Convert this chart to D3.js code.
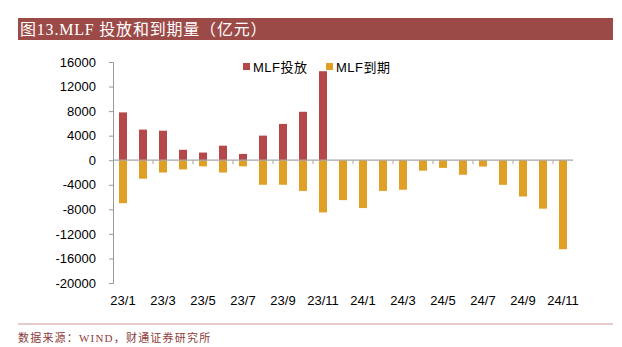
<!DOCTYPE html>
<html>
<head>
<meta charset="utf-8">
<script src="https://cdn.jsdelivr.net/npm/d3@7"></script>
<style>
  body { margin: 0; background: #fff; }
  svg { display: block; }
  .axis text { font-family: "Liberation Sans", Arial, sans-serif; font-size: 13px; fill: #000; }
</style>
</head>
<body>
<svg id="chart"></svg>
<script>
// data (亿元)
const months = ["23/1","23/2","23/3","23/4","23/5","23/6","23/7","23/8","23/9","23/10","23/11","23/12",
                "24/1","24/2","24/3","24/4","24/5","24/6","24/7","24/8","24/9","24/10","24/11"];
const injection = [7790, 4990, 4810, 1700, 1250, 2370, 1030, 4010, 5910, 7890, 14500, null,
                   null, null, null, null, null, null, null, null, null, null, null];
const maturity = [-7000, -3000, -2000, -1500, -1000, -2000, -1000, -4000, -4000, -5000, -8500, -6500,
                  -7790, -5000, -4810, -1700, -1250, -2370, -1030, -4010, -5910, -7890, -14500];
const yTicks = [-20000, -16000, -12000, -8000, -4000, 0, 4000, 8000, 12000, 16000];
const seriesNames = ["MLF投放", "MLF到期"];

const W = 622, H = 347;
const colors = {red: "#b5494a", gold: "#dfa025", title: "#9c4a47"};

const svg = d3.select("#chart").attr("width", W).attr("height", H);

// title bar
svg.append("rect").attr("x", 18).attr("y", 18).attr("width", 595).attr("height", 22)
  .attr("fill", colors.title);
svg.append("text").attr("x", 20).attr("y", 35)
  .attr("fill", "#fff")
  .style("font-family", "'Liberation Serif', 'Noto Sans CJK SC', serif")
  .style("font-size", "16px")
  .style("letter-spacing", "0.8px")
  .text("图13.MLF 投放和到期量（亿元）");

// scales
const x = d3.scaleBand().domain(months).range([113, 573]).paddingInner(0.6).paddingOuter(0.3);
const y = d3.scaleLinear().domain([-20000, 16000]).range([283, 62]);
const gap = (x.step() - x.bandwidth()) / 2;

// y axis
const yAxisG = svg.append("g").attr("class", "axis")
  .attr("transform", "translate(113,0)")
  .call(d3.axisLeft(y).tickValues(yTicks).tickSize(4).tickPadding(13).tickFormat(d => String(d)));
yAxisG.select(".domain").attr("stroke", "#999");
yAxisG.selectAll(".tick line").attr("stroke", "#999");

// bars
svg.append("g").selectAll("rect")
  .data(months.map((m, i) => ({m, v: maturity[i]})))
  .join("rect")
  .attr("x", d => x(d.m))
  .attr("width", x.bandwidth())
  .attr("y", y(0))
  .attr("height", d => y(d.v) - y(0))
  .attr("fill", colors.gold);

svg.append("g").selectAll("rect")
  .data(months.map((m, i) => ({m, v: injection[i]})).filter(d => d.v != null))
  .join("rect")
  .attr("x", d => x(d.m))
  .attr("width", x.bandwidth())
  .attr("y", d => y(d.v))
  .attr("height", d => y(0) - y(d.v))
  .attr("fill", colors.red);

// zero line + category ticks
svg.append("line")
  .attr("x1", x.range()[0]).attr("x2", x.range()[1])
  .attr("y1", y(0)).attr("y2", y(0))
  .attr("stroke", "#a6a6a6").attr("stroke-width", 1.2);

svg.append("g").selectAll("line")
  .data(months.filter((m, i) => i > 0 && i % 2 === 0))
  .join("line")
  .attr("x1", d => x(d) - gap).attr("x2", d => x(d) - gap)
  .attr("y1", y(0)).attr("y2", y(0) + 4)
  .attr("stroke", "#a6a6a6");

// x labels (every other month)
svg.append("g").attr("class", "axis").selectAll("text")
  .data(months.filter((m, i) => i % 2 === 0))
  .join("text")
  .attr("x", d => x(d) + x.bandwidth() / 2)
  .attr("y", 305)
  .attr("text-anchor", "middle")
  .text(d => d);

// legend
const legend = svg.append("g").attr("class", "axis");
const legendX = [243, 326];
seriesNames.forEach((name, i) => {
  legend.append("rect").attr("x", legendX[i]).attr("y", 63).attr("width", 7).attr("height", 7)
    .attr("fill", i === 0 ? colors.red : colors.gold);
  legend.append("text").attr("x", legendX[i] + 10).attr("y", 71.5)
    .style("font-family", "'Liberation Sans', 'Noto Sans CJK SC', sans-serif")
    .style("letter-spacing", "0.5px")
    .text(name);
});

// footer
svg.append("line").attr("x1", 18).attr("x2", 613).attr("y1", 324).attr("y2", 324)
  .attr("stroke", "#d09a98").attr("stroke-width", 1.2);
svg.append("text").attr("x", 18).attr("y", 342)
  .attr("fill", "#8e3b3a")
  .style("font-family", "'Liberation Serif', 'Noto Sans CJK SC', serif")
  .style("font-size", "11px")
  .style("letter-spacing", "1.2px")
  .text("数据来源：WIND，财通证券研究所");
</script>
</body>
</html>
